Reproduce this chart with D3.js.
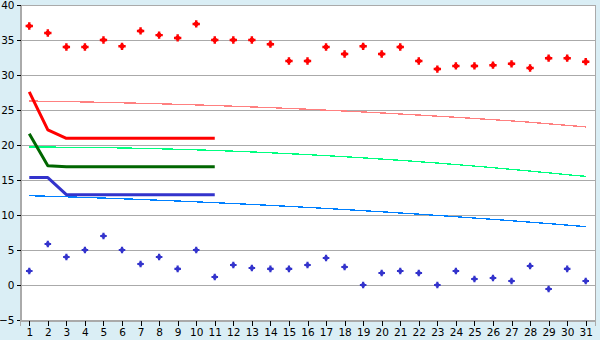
<!DOCTYPE html>
<html><head><meta charset="utf-8">
<script src="https://cdn.jsdelivr.net/npm/d3@7"></script>
<style>
html,body{margin:0;padding:0;background:#daeef5;}
svg{display:block;}
text{font-family:"DejaVu Sans",Verdana,sans-serif;font-size:10.5px;fill:#000;}
</style></head><body>
<svg id="c" width="600" height="340"></svg>
<script>
const categories = d3.range(1, 32).map(String);
const yTicks = [-5, 0, 5, 10, 15, 20, 25, 30, 35, 40];

const redDots = [37, 36, 34, 34, 35, 34.1, 36.3, 35.7, 35.3, 37.3,
  35, 35, 35, 34.4, 32, 32, 34, 33, 34.1, 33, 34,
  32, 30.85, 31.3, 31.3, 31.4, 31.6, 31, 32.4, 32.4, 31.9];
const blueDots = [2, 5.86, 4, 5, 7, 5, 3, 4, 2.3, 5,
  1.14, 2.86, 2.43, 2.3, 2.3, 2.86, 3.86, 2.57, 0, 1.71, 2,
  1.71, 0, 2, 0.86, 1, 0.57, 2.71, -0.57, 2.3, 0.57];

const redThick   = [27.6, 22.15, 20.95, 20.95, 20.95, 20.95, 20.95, 20.95, 20.95, 20.95, 20.95];
const greenThick = [21.6, 17.05, 16.9, 16.9, 16.9, 16.9, 16.9, 16.9, 16.9, 16.9, 16.9];
const blueThick  = [15.35, 15.35, 12.9, 12.9, 12.9, 12.9, 12.9, 12.9, 12.9, 12.9, 12.9];

const pinkTrend = [26.28, 26.24, 26.20, 26.15, 26.09, 26.03, 25.96, 25.89, 25.81, 25.73,
  25.64, 25.54, 25.44, 25.34, 25.22, 25.11, 24.98, 24.85, 24.72, 24.58,
  24.43, 24.28, 24.12, 23.96, 23.79, 23.62, 23.44, 23.25, 23.03, 22.81, 22.58];
const greenTrend = [19.71, 19.70, 19.68, 19.66, 19.62, 19.58, 19.52, 19.46, 19.39, 19.31,
  19.22, 19.12, 19.01, 18.89, 18.76, 18.63, 18.48, 18.33, 18.16, 17.99,
  17.81, 17.62, 17.42, 17.21, 16.99, 16.76, 16.52, 16.28, 16.02, 15.76, 15.52];
const blueTrend = [12.76, 12.68, 12.60, 12.51, 12.42, 12.32, 12.22, 12.11, 12.00, 11.88,
  11.76, 11.64, 11.51, 11.37, 11.23, 11.09, 10.94, 10.78, 10.62, 10.46,
  10.29, 10.12, 9.94, 9.76, 9.57, 9.38, 9.18, 8.98, 8.77, 8.56, 8.34];

const svg = d3.select("#c");
const L = 20, R = 595, T = 5, B = 320;

const x = d3.scalePoint().domain(categories).range([L, R]).padding(0.5);
const y = d3.scaleLinear().domain([-5, 40]).range([B, T]);

// plot background
svg.append("rect").attr("x", L).attr("y", T).attr("width", R - L).attr("height", B - T).attr("fill", "#fff");

// gridlines
svg.append("g").selectAll("line").data(yTicks).join("line")
  .attr("x1", L).attr("x2", R)
  .attr("y1", d => Math.round(y(d)) + 0.5).attr("y2", d => Math.round(y(d)) + 0.5)
  .attr("stroke", "#aaaaaa").attr("stroke-width", 1.4).attr("shape-rendering", "crispEdges");
// right border
svg.append("line").attr("x1", R + 0.5).attr("x2", R + 0.5).attr("y1", T).attr("y2", B)
  .attr("stroke", "#aaaaaa").attr("stroke-width", 1.4).attr("shape-rendering", "crispEdges");

// axes
const yAxis = svg.append("g").attr("transform", `translate(${L + 0.5},0)`)
  .call(d3.axisLeft(y).tickValues(yTicks).tickSize(4).tickPadding(2).tickFormat(d3.format("d")));
const xAxis = svg.append("g").attr("transform", `translate(0,${B + 0.5})`)
  .call(d3.axisBottom(x).tickSize(5).tickPadding(3));
[yAxis, xAxis].forEach(a => {
  a.select(".domain").attr("stroke", "#aaaaaa").attr("stroke-width", 1.4).attr("shape-rendering", "crispEdges");
  a.selectAll(".tick line").attr("stroke", "#000").attr("shape-rendering", "crispEdges");
  a.attr("font-size", null).attr("font-family", null);
});

// thin trend lines
const line = d3.line().x((d, i) => x(categories[i])).y(d => y(d));
[[pinkTrend, "#ff8080"], [greenTrend, "#00ff80"], [blueTrend, "#0080ff"]].forEach(([data, col]) => {
  svg.append("path").datum(data).attr("d", line).attr("fill", "none")
    .attr("stroke", col).attr("stroke-width", 1.3).attr("shape-rendering", "crispEdges");
});

// thick lines
[[redThick, "#ff0000"], [greenThick, "#006600"], [blueThick, "#3333cc"]].forEach(([data, col]) => {
  svg.append("path").datum(data).attr("d", line).attr("fill", "none")
    .attr("stroke", col).attr("stroke-width", 3).attr("stroke-linejoin", "round");
});

// markers: cross + diamond combined
function markers(data, col, s) {
  const g = svg.append("g");
  const pos = (d, i) => `translate(${x(categories[i])},${y(d)})`;
  g.selectAll("path.c").data(data).join("path").attr("class", "c")
    .attr("transform", pos).attr("d", d3.symbol().type(d3.symbolCross).size(s)()).attr("fill", col);
  g.selectAll("path.d").data(data).join("path").attr("class", "d")
    .attr("transform", pos).attr("d", d3.symbol().type(d3.symbolSquare).size(s * 0.5)()).attr("fill", col);
}
markers(redDots, "#ff0000", 30);
markers(blueDots, "#3333cc", 24);
</script>
</body></html>
